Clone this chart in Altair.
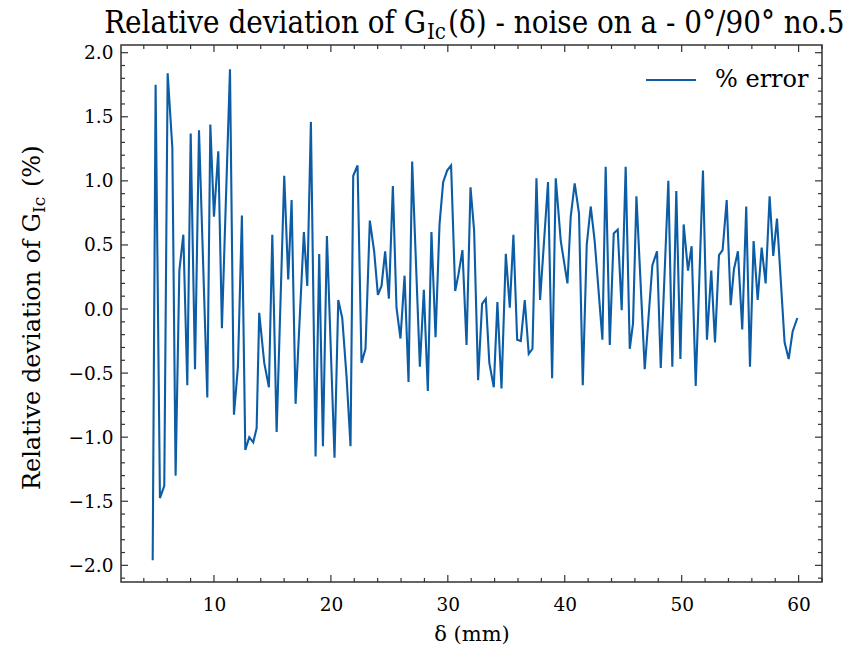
import altair as alt
import pandas as pd

# ---- data ----
x_mm = [4.76, 5.01, 5.38, 5.75, 6.04, 6.44, 6.72, 7.04, 7.38, 7.72, 8.01, 8.38, 8.72,
        9.43, 9.69, 10.0, 10.37, 10.68, 11.37, 11.71, 12.05, 12.39, 12.68, 13.02, 13.36,
        13.65, 13.87,
        14.30, 14.70, 14.99, 15.36, 16.01, 16.35, 16.64, 16.98, 17.69, 17.98, 18.29, 18.69,
        19.00, 19.32, 19.66, 20.31, 20.63, 20.97, 21.34, 21.68, 21.91, 22.28, 22.62, 22.96,
        23.33, 23.70,
        24.02, 24.33, 24.64, 24.96, 25.30, 25.61, 25.95, 26.30, 26.64, 26.95, 27.61, 27.95,
        28.29, 28.60, 28.95, 29.29, 29.60, 29.94, 30.28, 30.63, 30.91, 31.25, 31.60, 31.94,
        32.25, 32.59, 32.93, 33.25,
        33.55, 33.93, 34.24, 34.59, 34.96, 35.30, 35.61, 35.93, 36.24, 36.58, 36.92, 37.24,
        37.58, 37.89, 38.57, 38.92, 39.23, 39.66, 40.23, 40.51, 40.85, 41.22, 41.54, 41.88,
        42.22, 42.56, 43.22,
        43.50, 43.85, 44.19, 44.53, 44.87, 45.21, 45.56, 45.84, 46.13, 46.84, 47.49, 47.89,
        48.21, 48.86, 49.20, 49.54, 49.89, 50.17, 50.54, 50.85, 51.20, 51.82, 52.16, 52.53,
        52.85, 53.19,
        53.50, 53.85, 54.19, 54.47, 54.81, 55.18, 55.52, 55.84, 56.15, 56.50, 56.84, 57.18,
        57.52, 57.83, 58.15, 58.80, 59.15, 59.49, 59.89]

rel_dev = [-1.96, 1.75, -1.475, -1.38, 1.84, 1.26, -1.30, 0.30, 0.58, -0.595, 1.37, -0.47, 1.395,
           -0.69, 1.44, 0.72, 1.23, -0.15, 1.87, -0.825, -0.45, 0.73, -1.10, -1.00, -1.04,
           -0.93, -0.03,
           -0.42, -0.61, 0.58, -0.96, 1.04, 0.23, 0.85, -0.74, 0.60, 0.18, 1.46, -1.15,
           0.43, -1.07, 0.57, -1.16, 0.07, -0.07, -0.53, -1.07, 1.04, 1.12, -0.42, -0.31,
           0.69, 0.45,
           0.11, 0.18, 0.45, 0.08, 0.96, 0.01, -0.23, 0.26, -0.57, 1.15, -0.45, 0.15,
           -0.64, 0.60, -0.22, 0.66, 0.99, 1.08, 1.12, 0.14, 0.27, 0.46, -0.28, 0.95,
           0.61, -0.555, 0.04, 0.08,
           -0.42, -0.61, 0.055, -0.62, 0.43, 0.01, 0.58, -0.24, -0.25, 0.07, -0.35, -0.31,
           1.02, 0.07, 0.99, -0.54, 1.02, 0.53, 0.20, 0.72, 0.98, 0.745, -0.595, 0.50,
           0.80, 0.53, -0.24,
           1.11, -0.28, 0.59, 0.62, -0.01, 1.11, -0.31, -0.11, 0.88, -0.47, 0.34, 0.45,
           -0.46, 1.00, -0.45, 0.92, -0.39, 0.66, 0.30, 0.49, -0.60, 1.08, -0.24, 0.30,
           -0.26, 0.42,
           0.46, 0.85, 0.03, 0.31, 0.45, -0.16, 0.80, -0.45, 0.53, 0.07, 0.48, 0.20,
           0.88, 0.415, 0.705, -0.26, -0.39, -0.175, -0.07]

series_name = "% error"
x_major = [10, 20, 30, 40, 50, 60]
x_minor = [4, 6, 8, 12, 14, 16, 18, 22, 24, 26, 28, 32, 34, 36, 38, 42, 44, 46, 48,
           52, 54, 56, 58, 62]
y_major = [-2.0, -1.5, -1.0, -0.5, 0.0, 0.5, 1.0, 1.5, 2.0]
y_minor = [-2.1, -1.9, -1.8, -1.7, -1.6, -1.4, -1.3, -1.2, -1.1, -0.9, -0.8, -0.7, -0.6,
           -0.4, -0.3, -0.2, -0.1, 0.1, 0.2, 0.3, 0.4, 0.6, 0.7, 0.8, 0.9, 1.1, 1.2, 1.3,
           1.4, 1.6, 1.7, 1.8, 1.9]

title_main = "Relative deviation of G"
title_sub = "Ic"
title_rest = "(δ) - noise on a - 0°/90° no.5"
ytitle_main = "Relative deviation of G"
ytitle_sub = "Ic"
ytitle_rest = "(%)"
xtitle = "δ (mm)"

# ---- layout ----
W, H = 701, 537
X_DOM = [2.05, 62.0]
Y_DOM = [-2.13, 2.06]
FONT = "DejaVu Serif"
TITLE_FONT = "DejaVu Serif Condensed, DejaVu Serif"
LINE_C = "#0C5DA5"
FRAME_C = "#333333"
MAJ, MIN = 7, 4

df = pd.DataFrame({"x": x_mm, "y": rel_dev, "s": [series_name] * len(x_mm)})

xs = alt.Scale(domain=X_DOM, nice=False, zero=False)
ys = alt.Scale(domain=Y_DOM, nice=False, zero=False)

line = alt.Chart(df).mark_line(strokeWidth=2.1, clip=True).encode(
    x=alt.X("x:Q", scale=xs,
            axis=alt.Axis(values=x_major, format="d", title=xtitle, ticks=False,
                          domain=False, grid=False, labelFontSize=18.5,
                          labelPadding=13, titleFontSize=21, titleFontWeight="normal",
                          titlePadding=10, labelColor="black", titleColor="black")),
    y=alt.Y("y:Q", scale=ys,
            axis=alt.Axis(values=y_major, format=".1f", title=None, ticks=False,
                          domain=False, grid=False, labelFontSize=18.5,
                          labelPadding=8, labelColor="black")),
    color=alt.Color("s:N", scale=alt.Scale(range=[LINE_C]),
                    legend=alt.Legend(title=None, orient="none", legendX=524, legendY=9,
                                      symbolType="stroke", symbolSize=2500,
                                      symbolStrokeWidth=2, labelFontSize=24,
                                      labelOffset=18, padding=0, labelColor="black")),
)


def tick_layer(vals, axis, length):
    d = pd.DataFrame({"v": vals})
    base = alt.Chart(d).mark_rule(color=FRAME_C, strokeWidth=1.2)
    if axis == "bottom":
        return base.encode(x=alt.X("v:Q", scale=xs), y=alt.value(H), y2=alt.value(H - length))
    if axis == "top":
        return base.encode(x=alt.X("v:Q", scale=xs), y=alt.value(0), y2=alt.value(length))
    if axis == "left":
        return base.encode(y=alt.Y("v:Q", scale=ys), x=alt.value(0), x2=alt.value(length))
    return base.encode(y=alt.Y("v:Q", scale=ys), x=alt.value(W), x2=alt.value(W - length))


ticks = []
for side in ["bottom", "top"]:
    ticks.append(tick_layer(x_major, side, MAJ))
    ticks.append(tick_layer(x_minor, side, MIN))
for side in ["left", "right"]:
    ticks.append(tick_layer(y_major, side, MAJ))
    ticks.append(tick_layer(y_minor, side, MIN))


def text_layer(txt, x, y, size, align, angle=0, font=FONT):
    d = pd.DataFrame({"t": [txt]})
    kw = dict(align=align, baseline="alphabetic", fontSize=size, color="black", font=font)
    if angle:
        kw["angle"] = angle
    return alt.Chart(d).mark_text(**kw).encode(text="t:N", x=alt.value(x), y=alt.value(y))


A = 305
texts = [
    text_layer(title_main, A, -12, 31, "right", font=TITLE_FONT),
    text_layer(title_sub, A + 1, -6, 22, "left", font=TITLE_FONT),
    text_layer(title_rest, A + 22, -12, 31, "left", font=TITLE_FONT),
]
B = 168
texts += [
    text_layer(ytitle_main, -81, B, 24, "right", 270),
    text_layer(ytitle_sub, -76, B, 17, "left", 270),
    text_layer(ytitle_rest, -81, B - 26, 24, "left", 270),
]

chart = alt.layer(line, *ticks, *texts).properties(
    width=W, height=H,
    padding={"left": 121, "top": 45, "right": 34, "bottom": 68},
    autosize=alt.AutoSizeParams(type="none"),
).configure(font=FONT, background="white").configure_view(
    stroke=FRAME_C, strokeWidth=1.5
).configure_axis(labelFont=FONT, titleFont=FONT).configure_legend(labelFont=FONT)

chart.save("out.html", embed_options={"renderer": "svg", "actions": False})
